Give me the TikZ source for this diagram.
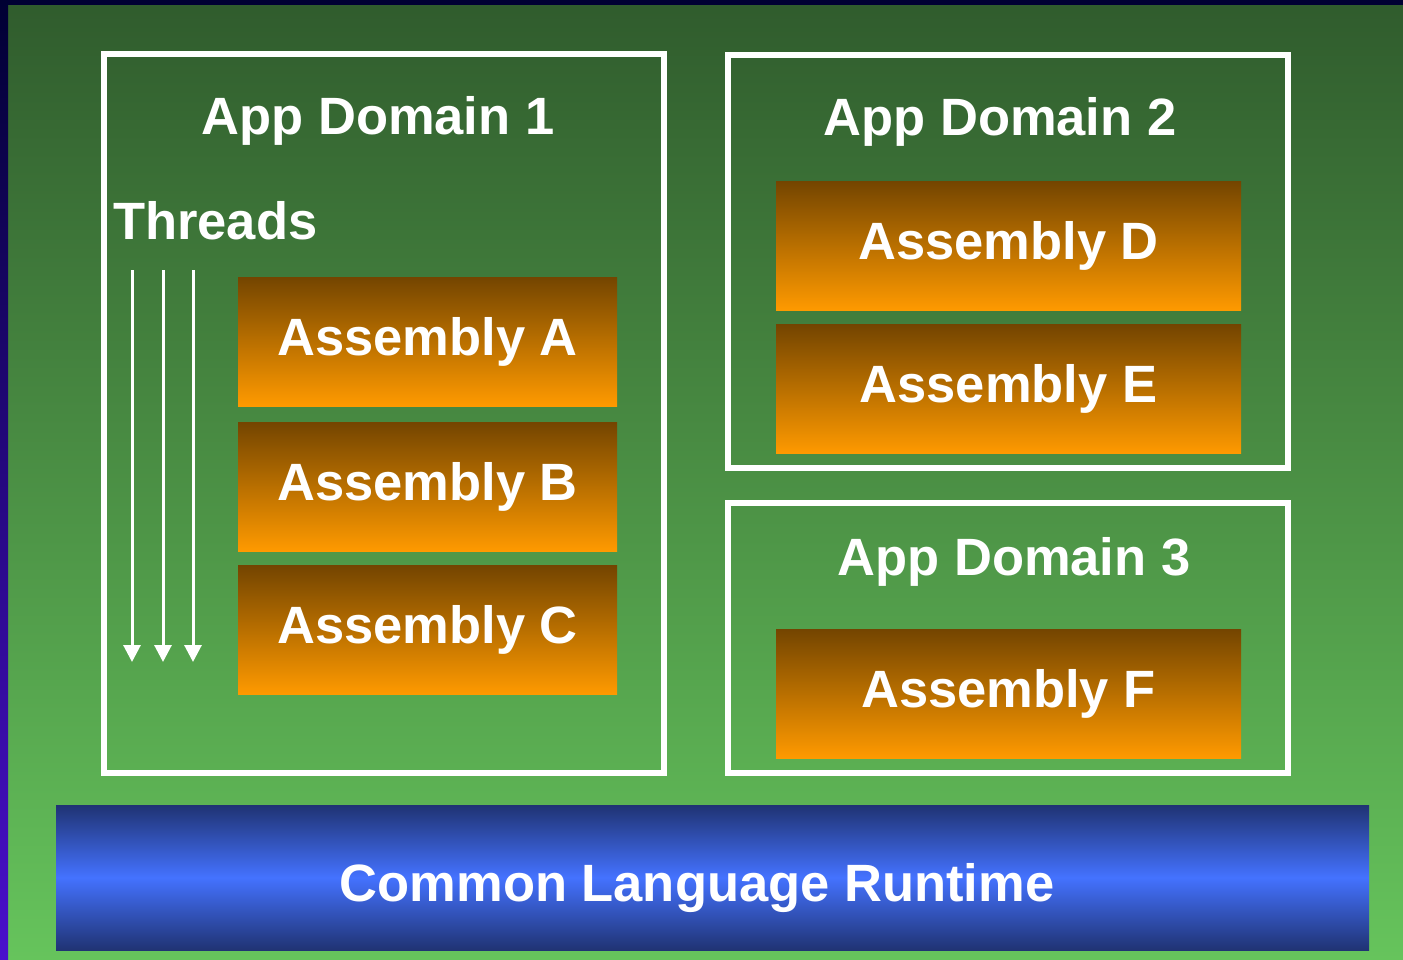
\documentclass[tikz,border=0pt]{standalone}
\usepackage{fontspec}
\setmainfont{Liberation Sans}
\usepackage{tikz}
\usetikzlibrary{arrows.meta,positioning}
\definecolor{bgtop}{HTML}{305C2D}
\definecolor{bgbottom}{HTML}{66C45C}
\definecolor{edgetop}{HTML}{000033}
\definecolor{edgebottom}{HTML}{4A10CC}
\definecolor{asmtop}{HTML}{744500}
\definecolor{asmbottom}{HTML}{FF9A00}
\definecolor{clrdark}{HTML}{203373}
\definecolor{clrlight}{HTML}{4472FF}

\begin{document}
\begin{tikzpicture}[
  x=1pt,y=-1pt,
  every node/.style={font=\fontsize{52.5}{60}\selectfont\bfseries,text=white,align=center},
  domainbox/.style={draw=white,line width=6pt,inner sep=0pt,minimum width=560pt},
  asmbox/.style={top color=asmtop,bottom color=asmbottom,inner sep=0pt,minimum height=129pt},
  asmleft/.style={asmbox,minimum width=379pt},
  asmright/.style={asmbox,minimum width=465pt},
  clrbar/.style={top color=clrdark,bottom color=clrdark,middle color=clrlight,inner sep=0pt,minimum width=1313pt,minimum height=145pt},
  threadarrow/.style={-{Triangle[length=17pt,width=17pt]},line width=3pt,draw=white}
]
\useasboundingbox (0,0) rectangle (1403,960);
% background
\shade[top color=bgtop,bottom color=bgbottom] (8,5) rectangle (1403,960);
\shade[top color=edgetop,bottom color=edgebottom] (0,0) rectangle (8,960);
\fill[edgetop] (8,0) rectangle (1403,5);

% app domains
\node[domainbox,minimum height=719pt] (dom1) at (384,413.5) {};
\node[domainbox,minimum height=413pt] (dom2) at (1008,261.5) {};
\node[domainbox,minimum height=270pt] (dom3) at (1008,638) {};
\node[anchor=base] (dom1title) at (378,135) {App Domain 1};
\node[anchor=base] (dom2title) at (1000,136) {App Domain 2};
\node[anchor=base] (dom3title) at (1014,575) {App Domain 3};
\node[anchor=base west,inner sep=0pt] (threads) at (113,240) {Threads};

% assemblies
\node[asmleft] (asmA) at (427.5,341.5) {Assembly A};
\node[asmleft,below=16pt of asmA] (asmB) {Assembly B};
\node[asmleft,below=14pt of asmB] (asmC) {Assembly C};
\node[asmright] (asmD) at (1008.5,246) {Assembly D};
\node[asmright,below=14pt of asmD] (asmE) {Assembly E};
\node[asmright] (asmF) at (1008.5,694) {Assembly F};

% runtime
\node[clrbar] (clr) at (712.5,877.5) {};
\node[anchor=base] (clrtext) at (697,901) {Common Language Runtime};

% threads
\foreach \x [count=\i] in {132,163,193} {
  \coordinate (thr\i top) at (\x,270);
  \coordinate (thr\i end) at (\x,662);
  \draw[threadarrow] (thr\i top) -- (thr\i end);
}
\end{tikzpicture}
\end{document}
